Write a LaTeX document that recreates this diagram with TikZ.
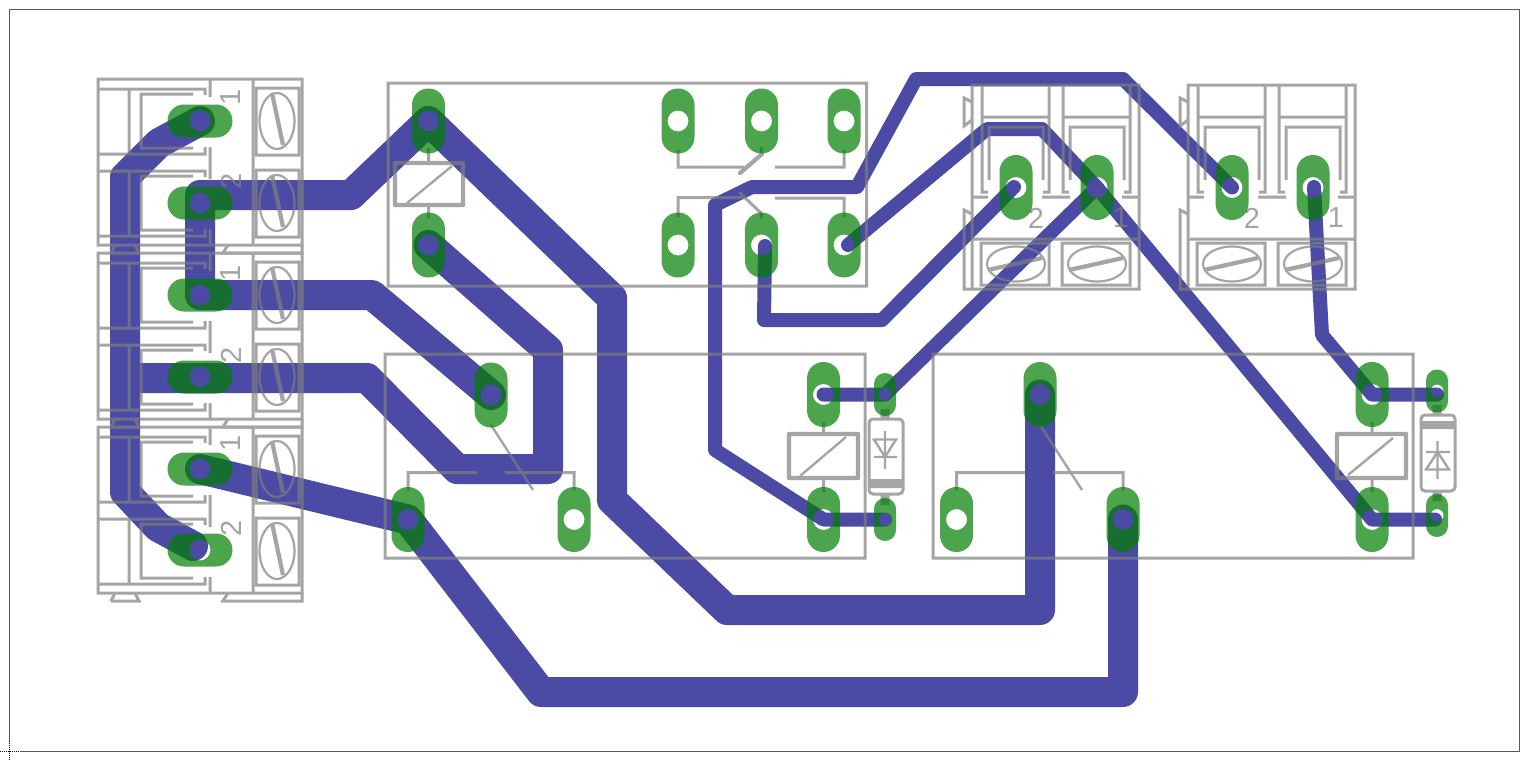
\documentclass[tikz,border=0pt]{standalone}
\usepackage{fontspec}
\setmainfont{Liberation Sans}
\definecolor{track}{HTML}{4B4BA5}
\definecolor{padc}{HTML}{007F00}
\definecolor{silk}{HTML}{7F7F7F}
\definecolor{frm}{HTML}{5A5A5A}
\tikzset{
  wide/.style={draw=track,line width=30pt,line cap=round,line join=round},
  thin/.style={draw=track,line width=14pt,line cap=round,line join=round},
  ln/.style={draw=silk,line width=3pt,line cap=butt,line join=miter},
  fineln/.style={draw=silk,line width=2.4pt},
  slot/.style={draw=silk,line width=4.2pt},
  coil/.style={draw=silk,line width=4.4pt,line join=round},
  screw/.style={draw=silk,line width=2.2pt},
  digit/.style={text=silk,inner sep=0pt,font=\fontsize{29}{29}\selectfont},
  padfill/.style={fill=padc,fill opacity=.7,even odd rule},
}
\begin{document}
\begin{tikzpicture}[x=1pt,y=-1pt]
\useasboundingbox (0,0) rectangle (1533,760);
\fill[white] (0,0) rectangle (1533,760);
% frame
\draw[frm,line width=1pt] (9.5,741) -- (9.5,10) -- (1519,10) -- (1519,751.5) -- (20,751.5);
\draw[black,line width=1pt,densely dotted] (9.5,741) -- (9.5,760);
\draw[black,line width=1pt,densely dotted] (0,751.5) -- (20,751.5);
% pad positions
\coordinate (A1) at (200,121);
\coordinate (A2) at (200,203);
\coordinate (A3) at (200,295);
\coordinate (A4) at (200,377);
\coordinate (A5) at (200,469);
\coordinate (A6) at (200,550);
\coordinate (K1a) at (428.5,121);
\coordinate (K1b) at (428.5,245);
\coordinate (K1c) at (678,121);
\coordinate (K1d) at (761.5,121);
\coordinate (K1e) at (844,121);
\coordinate (K1f) at (678,245);
\coordinate (K1g) at (761.5,245);
\coordinate (K1h) at (844,245);
\coordinate (K2a) at (491,395);
\coordinate (K2b) at (408,519.5);
\coordinate (K2c) at (574,519.5);
\coordinate (K2d) at (823.5,394.5);
\coordinate (K2e) at (823.5,519.5);
\coordinate (K3a) at (1040,394.5);
\coordinate (K3b) at (956.5,519.5);
\coordinate (K3c) at (1123,519.5);
\coordinate (K3d) at (1372,394.5);
\coordinate (K3e) at (1372,519.5);
\coordinate (D1a) at (885,394.5);
\coordinate (D1b) at (885,519.5);
\coordinate (D2a) at (1437,391);
\coordinate (D2b) at (1437,515.5);
\coordinate (J1) at (1016,187.5);
\coordinate (J2) at (1097,187.5);
\coordinate (J3) at (1232,187.5);
\coordinate (J4) at (1313,187.5);
% bends and free ends of tracks
\coordinate (e1) at (193,546);
\coordinate (e2) at (848,245);
\coordinate (e3) at (765,246);
\coordinate (e4) at (1014,187);
\coordinate (e5) at (1437,394.5);
\coordinate (e6) at (1435,519.5);
\coordinate (e7) at (1314,187);
% tracks
\draw[wide] (A1) -- (159,143) -- (125,177) -- (125,492) -- (158,527) -- (e1);
\draw[wide] (A3) -- (200,195) -- (351,195) -- (K1a) -- (612,298) -- (612,500) -- (727,610) -- (1040,610) -- (K3a);
\draw[wide] (A3) -- (372,295) -- (K2a);
\draw[wide] (125,378) -- (367,378) -- (457,469) -- (548,469) -- (548,350) -- (K1b);
\draw[wide] (A5) -- (K2b) -- (541,692) -- (1123,692) -- (K3c);
\draw[thin] (K2d) -- (D1a) -- (J2);
\draw[thin] (e2) -- (987,129) -- (1042,129) -- (J2) -- (K3e) -- (e6);
\draw[thin] (e4) -- (882,320) -- (764,320) -- (e3);
\draw[thin] (J3) -- (1123,79) -- (916,79) -- (857,187) -- (752,187) -- (715,205) -- (715,450) -- (K2e) -- (D1b);
\draw[thin] (e7) -- (1322,335) -- (K3d) -- (e5);
% silkscreen
\begin{scope}[transparency group,opacity=.7]
  % left screw terminals
  \foreach \T in {79,253,427} {
    \begin{scope}[shift={(0,\T)}]
      \draw[ln] (98,0) rectangle (302,166);
      \draw[ln] (253,0) -- (253,166);
      \draw[ln] (210,0) -- (210,18) (210,68) -- (210,100) (210,150) -- (210,166);
      \draw[ln,line join=miter] (111,174) -- (115,166) (135,166) -- (139,174) -- (111,174);
      \draw[ln] (228,166) -- (223,174) -- (302,174) -- (302,166);
      \foreach \P in {42,124} {
        \draw[ln] (98,\P-32) -- (205,\P-32) -- (205,\P-26);
        \draw[ln] (205,\P+26) -- (205,\P+33) -- (98,\P+33);
        \draw[ln] (193,\P-27) -- (141,\P-27) -- (141,\P+27) -- (193,\P+27);
        \draw[ln] (129,\P-32) -- (129,\P+33);
        \draw[ln] (256,\P-33) rectangle (299,\P+34);
        \draw[screw] (277,\P) ellipse[x radius=17.5,y radius=28];
        \draw[slot] (272,\P-28) -- (283,\P+24);
      }
    \end{scope}
  }
  \node[digit,rotate=90] (dl1) at (231,97) {1};
  \node[digit,rotate=90] (dl2) at (231,181) {2};
  \node[digit,rotate=90] (dl3) at (231,273) {1};
  \node[digit,rotate=90] (dl4) at (231,355) {2};
  \node[digit,rotate=90] (dl5) at (231,443) {1};
  \node[digit,rotate=90] (dl6) at (231,528) {2};
  % right screw terminals
  \foreach \S in {0,216} {
    \begin{scope}[shift={(\S,0)}]
      \draw[ln] (972,85) rectangle (1139,289);
      \draw[ln] (972,239) -- (1139,239);
      \draw[ln] (972,197) -- (988,197) (1042,197) -- (1070,197) (1122,197) -- (1139,197);
      \draw[ln] (972,102) -- (964,98) -- (964,126) -- (972,120);
      \draw[ln] (972,214) -- (964,210) -- (964,289) -- (972,289);
      \foreach \X in {1016,1097} {
        \draw[ln] (\X-34,85) -- (\X-34,192) -- (\X-28,192);
        \draw[ln] (\X+33,85) -- (\X+33,192) -- (\X+27,192);
        \draw[ln] (\X-34,117) -- (\X+33,117);
        \draw[ln] (\X-27,180) -- (\X-27,127) -- (\X+27,127) -- (\X+27,180);
        \draw[ln] (\X-35,243) rectangle (\X+33,285);
        \draw[screw] (\X,264) ellipse[x radius=29,y radius=17.5];
        \draw[slot] (\X-28,270) -- (\X+26,258);
      }
    \end{scope}
  }
  \node[digit] (dr1) at (1036,218) {2};
  \node[digit] (dr2) at (1121,218) {1};
  \node[digit] (dr3) at (1252,218) {2};
  \node[digit] (dr4) at (1336,218) {1};
  % relay outlines
  \draw[ln] (388,83) rectangle (866.5,286);
  \draw[ln] (385,354) rectangle (865,558);
  \draw[ln] (933,354) rectangle (1413,558);
  % relay K1 coil and contacts
  \draw[coil] (395,163) rectangle (463,205);
  \draw[fineln] (407,203) -- (452,166);
  \draw[ln] (428.5,148) -- (428.5,163) (428.5,205) -- (428.5,218);
  \draw[ln] (678,150) -- (678,167) -- (744,167);
  \draw[ln] (775,167) -- (844,167) -- (844,150);
  \draw[ln] (761.5,147) -- (761.5,155);
  \draw[slot,line cap=round] (740,173) -- (762,154);
  \draw[ln] (678,217) -- (678,197.5) -- (744,197.5);
  \draw[ln] (775,198) -- (844,198) -- (844,217);
  \draw[ln] (761.5,213) -- (761.5,218);
  \draw[slot,line width=3pt,line cap=round] (740,193) -- (762,214);
  % relay K2
  \draw[coil] (789,434) rectangle (858,478);
  \draw[fineln] (800,476) -- (846,437);
  \draw[ln] (823.5,422) -- (823.5,434) (823.5,478) -- (823.5,492);
  \draw[ln] (408,490) -- (408,472.5) -- (477,472.5);
  \draw[ln] (505,472.5) -- (574,472.5) -- (574,490);
  \draw[fineln] (491,425) -- (533,490);
  % relay K3
  \draw[coil] (1337,434) rectangle (1406,478);
  \draw[fineln] (1348,475) -- (1393,438);
  \draw[ln] (1372,422) -- (1372,434) (1372,478) -- (1372,492);
  \draw[ln] (956.5,490) -- (956.5,472.5) -- (1025,472.5);
  \draw[ln] (1053,472.5) -- (1123,472.5) -- (1123,490);
  \draw[fineln] (1040,425) -- (1082,490);
  % diode D1
  \draw[ln,rounded corners=4pt] (869,419) rectangle (903,494);
  \fill[silk] (869,479) rectangle (903,488);
  \draw[silk,line width=9pt] (885,409) -- (885,419) (885,494) -- (885,505);
  \draw[fineln] (885,431) -- (885,469) (874,457) -- (897,457);
  \draw[fineln,line join=miter] (874,439.5) -- (896,439.5) -- (885,457) -- cycle;
  % diode D2
  \draw[ln,rounded corners=4pt] (1421,415) rectangle (1455,491);
  \fill[silk] (1421,421) rectangle (1455,429);
  \draw[silk,line width=9pt] (1437,405) -- (1437,415) (1437,491) -- (1437,501);
  \draw[fineln] (1437.5,441) -- (1437.5,479) (1426,452) -- (1450,452);
  \draw[fineln,line join=miter] (1437.5,452) -- (1449,469.5) -- (1426,469.5) -- cycle;
\end{scope}
% pads
\foreach \n in {A1,A2,A3,A4,A5,A6} {
  \fill[padfill] [rounded corners=16.4pt] (\n) ++(-32.5,-16.5) rectangle ++(65,33) [sharp corners] (\n) circle[radius=10.5];
}
\foreach \n in {K1a,K1b,K1c,K1d,K1e,K1f,K1g,K1h,K2a,K2b,K2c,K2d,K2e,K3a,K3b,K3c,K3d,K3e,J1,J2,J3,J4} {
  \fill[padfill] [rounded corners=16.4pt] (\n) ++(-16.5,-32.5) rectangle ++(33,65) [sharp corners] (\n) circle[radius=10.5];
}
\foreach \n in {D1a,D1b,D2a,D2b} {
  \fill[padfill] [rounded corners=10.9pt] (\n) ++(-11,-21.5) rectangle ++(22,43) [sharp corners] (\n) circle[radius=6.5];
}
\end{tikzpicture}
\end{document}
